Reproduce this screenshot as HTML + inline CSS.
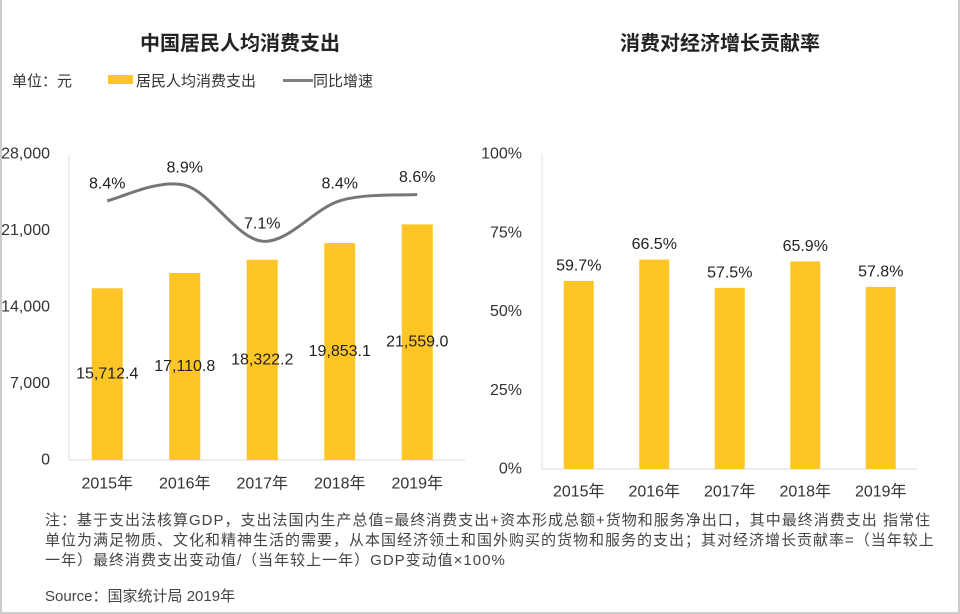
<!DOCTYPE html>
<html><head><meta charset="utf-8"><style>
body{margin:0;background:#fff;}
#wrap{position:relative;width:960px;height:614px;overflow:hidden;font-family:"Liberation Sans","Noto Sans CJK SC",sans-serif;color:#333;}
.abs{position:absolute;white-space:nowrap;}
svg text{font-family:"Liberation Sans","Noto Sans CJK SC",sans-serif;}
</style></head><body>
<div id="wrap">
<div class="abs" style="left:0;width:480px;text-align:center;top:27px;font-size:20px;font-weight:bold;color:#222;">中国居民人均消费支出</div>
<div class="abs" style="left:480px;width:480px;text-align:center;top:27px;font-size:20px;font-weight:bold;color:#222;">消费对经济增长贡献率</div>
<div class="abs" style="left:12px;top:70px;font-size:15px;">单位：元</div>
<div class="abs" style="left:108px;top:75px;width:25px;height:9px;background:#FDC526;"></div>
<div class="abs" style="left:136px;top:70px;font-size:15px;">居民人均消费支出</div>
<div class="abs" style="left:283px;top:79px;width:30px;height:3px;background:#7f7f7f;"></div>
<div class="abs" style="left:313px;top:70px;font-size:15px;">同比增速</div>
<svg id="chart" width="960" height="614" style="position:absolute;left:0;top:0"></svg>
<div class="abs" style="left:45px;top:511px;font-size:15px;letter-spacing:1px;line-height:20px;color:#444;">注：基于支出法核算GDP，支出法国内生产总值=最终消费支出+资本形成总额+货物和服务净出口，其中最终消费支出 指常住<br>单位为满足物质、文化和精神生活的需要，从本国经济领土和国外购买的货物和服务的支出；其对经济增长贡献率=（当年较上<br>一年）最终消费支出变动值/（当年较上一年）GDP变动值×100%</div>
<div class="abs" style="left:45px;top:585px;font-size:15px;color:#444;">Source：国家统计局 2019年</div>
<div class="abs" style="left:0;top:0;width:2px;height:614px;background:#ccc;"></div>
<div class="abs" style="right:0;top:0;width:2px;height:614px;background:#ccc;"></div>
<div class="abs" style="left:0;bottom:0;width:960px;height:2px;background:#ccc;"></div>
</div>
<script>
const categories=["2015年","2016年","2017年","2018年","2019年"];
const spending=[15712.4,17110.8,18322.2,19853.1,21559.0];
const spendingLabels=["15,712.4","17,110.8","18,322.2","19,853.1","21,559.0"];
const growth=[8.4,8.9,7.1,8.4,8.6];
const leftTicks=[0,7000,14000,21000,28000];
const leftTickLabels=["0","7,000","14,000","21,000","28,000"];
const contribution=[59.7,66.5,57.5,65.9,57.8];
const rightTicks=[0,25,50,75,100];
const rightTickLabels=["0%","25%","50%","75%","100%"];

const NS="http://www.w3.org/2000/svg";
const svg=document.getElementById('chart');
function mk(tag,attrs,parent){const e=document.createElementNS(NS,tag);for(const k in attrs)e.setAttribute(k,attrs[k]);(parent||svg).appendChild(e);return e;}
function txt(x,y,s,anchor,size,fill){const t=mk('text',{x:x,y:y,'text-anchor':anchor,'font-size':size,fill:fill||'#333','dominant-baseline':'central'});t.textContent=s;return t;}

// left chart
const L={x0:68.5,band:77.5,y0:460,y1:154,max:28000,bw:31};
const lx=i=>L.x0+L.band*(i+0.5);
const ly=v=>L.y0-(v/L.max)*(L.y0-L.y1);
const gy=v=>462-(v/10)*311;
let a=mk('line',{x1:69,y1:154,x2:69,y2:L.y0,stroke:'#e0e0e0'});

a=mk('line',{x1:69,y1:L.y0,x2:465,y2:L.y0,stroke:'#d9d9d9'});

leftTicks.forEach((v,i)=>{const t=txt(50,ly(v),leftTickLabels[i],'end',16,'#333');
});
spending.forEach((v,i)=>{
 const r=mk('rect',{x:lx(i)-L.bw/2,y:ly(v),width:L.bw,height:L.y0-ly(v),fill:'#FDC526'});
 
 const t=txt(lx(i),(ly(v)+L.y0)/2,spendingLabels[i],'middle',16,'#222');
 
 const c=txt(lx(i),484,categories[i],'middle',16,'#333');
 
});
const pts=growth.map((v,i)=>[lx(i),gy(v)]);
let d='M'+pts[0][0]+','+pts[0][1];
for(let i=0;i<pts.length-1;i++){
 const p0=pts[Math.max(i-1,0)],p1=pts[i],p2=pts[i+1],p3=pts[Math.min(i+2,pts.length-1)];
 const c1=[p1[0]+(p2[0]-p0[0])/6,p1[1]+(p2[1]-p0[1])/6],c2=[p2[0]-(p3[0]-p1[0])/6,p2[1]-(p3[1]-p1[1])/6];
 d+=` C${c1[0]},${c1[1]} ${c2[0]},${c2[1]} ${p2[0]},${p2[1]}`;
}
const gl=mk('path',{d:d,fill:'none',stroke:'#767676','stroke-width':3});

growth.forEach((v,i)=>{const t=txt(lx(i),gy(v)-17,v.toFixed(1)+'%','middle',16,'#222');
});

// right chart
const R={x0:541,band:75.5,y0:469,y1:154,max:100,bw:30};
const rx=i=>R.x0+R.band*(i+0.5);
const ry=v=>R.y0-(v/R.max)*(R.y0-R.y1);
a=mk('line',{x1:542,y1:154,x2:542,y2:R.y0,stroke:'#e0e0e0'});

a=mk('line',{x1:542,y1:R.y0,x2:917,y2:R.y0,stroke:'#d9d9d9'});

rightTicks.forEach((v,i)=>{const t=txt(522,ry(v),rightTickLabels[i],'end',16,'#333');
});
contribution.forEach((v,i)=>{
 const r=mk('rect',{x:rx(i)-R.bw/2,y:ry(v),width:R.bw,height:R.y0-ry(v),fill:'#FDC526'});
 
 const t=txt(rx(i),ry(v)-15,v.toFixed(1)+'%','middle',16,'#222');
 
 const c=txt(rx(i),492,categories[i],'middle',16,'#333');
 
});
</script>
</body></html>
